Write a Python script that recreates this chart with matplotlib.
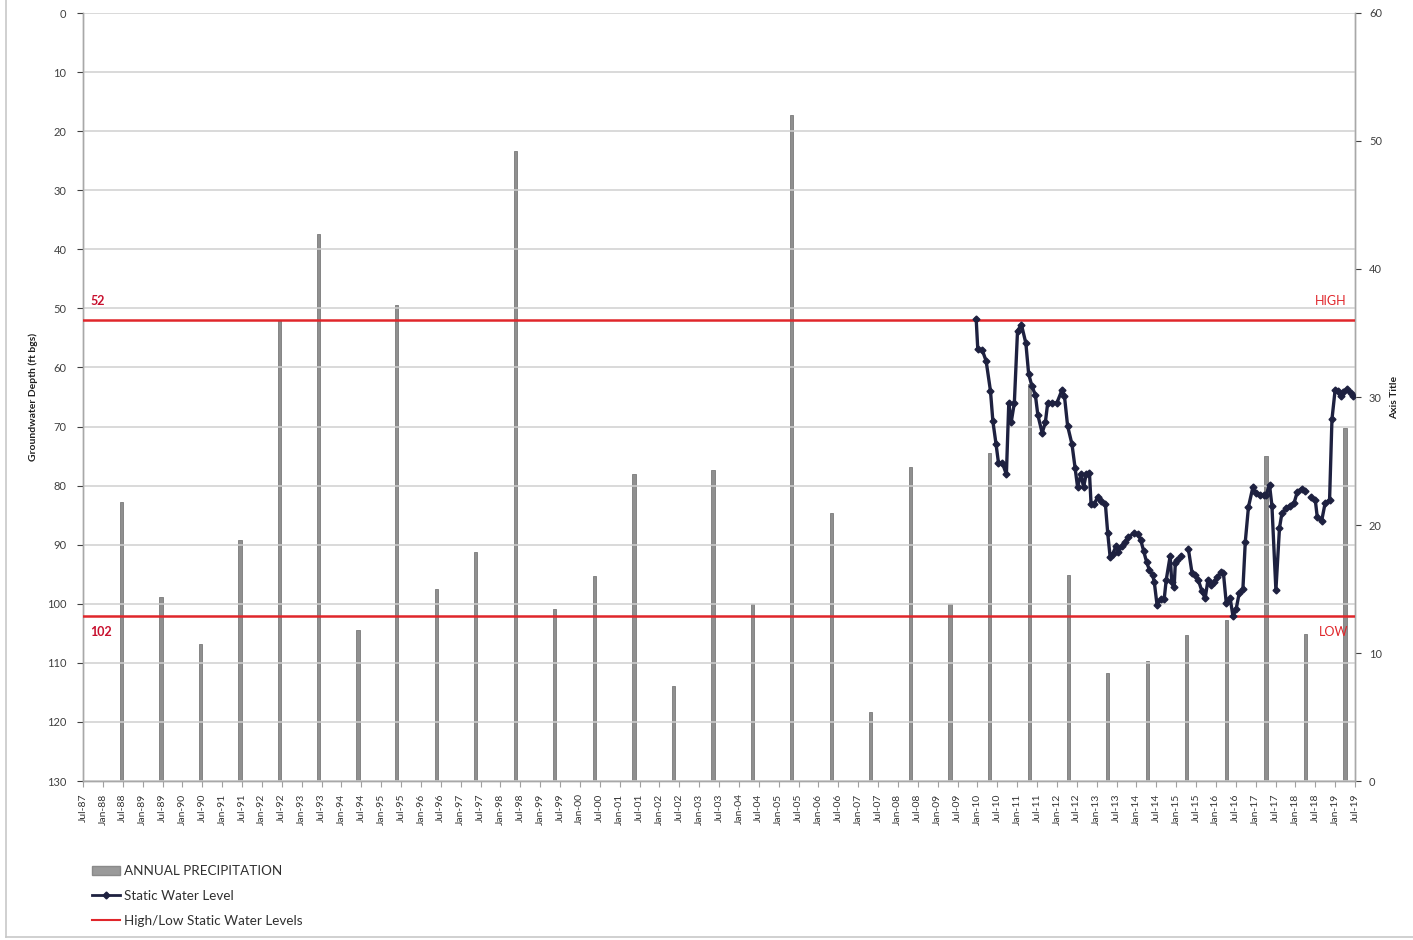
import numpy as np
import matplotlib.pyplot as plt
from matplotlib.patches import Patch
from matplotlib.lines import Line2D

plt.rcParams['font.family'] = ['Lato', 'DejaVu Sans']

# Annual precipitation (right axis), bar position in decimal years
precip_year = [1988.47, 1989.46, 1990.46, 1991.45, 1992.44, 1993.43, 1994.42, 1995.39,
               1996.39, 1997.38, 1998.38, 1999.37, 2000.37, 2001.36, 2002.35, 2003.35,
               2004.34, 2005.33, 2006.33, 2007.32, 2008.32, 2009.31, 2010.31, 2011.31,
               2012.29, 2013.28, 2014.28, 2015.27, 2016.27, 2017.26, 2018.26, 2019.25]
precip = [21.8, 14.4, 10.7, 18.8, 36.0, 42.7, 11.8, 37.2,
          15.0, 17.9, 49.2, 13.4, 16.0, 24.0, 7.4, 24.3,
          13.8, 52.0, 20.9, 5.4, 24.5, 13.8, 25.6, 31.0,
          16.1, 8.4, 9.4, 11.4, 12.6, 25.4, 11.5, 27.6]

# Static water level (ft bgs), nan = gap in record
swl_year = [2009.97, 2010.01, 2010.12, 2010.22, 2010.33, 2010.39, 2010.47, 2010.53, 2010.63, 2010.73,
            2010.79, 2010.85, 2010.93, 2011.01, 2011.11, 2011.22, 2011.29, 2011.37, 2011.46, 2011.52,
            2011.63, 2011.71, 2011.77, 2011.88, 2012.00, 2012.13, 2012.19, 2012.27, 2012.38, 2012.46,
            2012.52, 2012.61, 2012.67, 2012.74, 2012.82, 2012.86, 2012.94, 2013.03, 2013.11, 2013.22,
            2013.28, 2013.34, 2013.41, 2013.49, 2013.55, 2013.64, 2013.72, 2013.80, 2013.95, 2014.04,
            2014.11, 2014.18, 2014.26, 2014.33, 2014.41, 2014.45, 2014.52, 2014.62, 2014.70, 2014.75,
            2014.85, 2014.89, 2014.95, 2014.98, 2015.03, 2015.12, 2015.20, 2015.31, 2015.40, 2015.48,
            2015.56, 2015.65, 2015.73, 2015.80, 2015.87, 2015.96, 2016.04, 2016.13, 2016.19, 2016.26,
            2016.36, 2016.43, 2016.51, 2016.59, 2016.68, 2016.74, 2016.82, 2016.93, 2017.01, 2017.11,
            2017.20, 2017.26, 2017.35, 2017.41, 2017.51, 2017.60, 2017.66, 2017.77, 2017.87, 2017.97,
            2018.05, 2018.16, 2018.24, 2018.32, 2018.40, 2018.50, 2018.55, 2018.66, 2018.75, 2018.86,
            2018.92, 2019.00, 2019.06, 2019.14, 2019.21, 2019.29, 2019.39, 2019.46]
swl_depth = [51.8, 56.9, 57.0, 58.9, 64.0, 69.1, 73.0, 76.1, 76.2, 78.1,
             66.0, 69.3, 66.0, 53.8, 52.8, 55.9, 61.1, 63.1, 64.7, 68.0,
             71.1, 69.3, 66.0, 66.0, 66.0, 63.8, 64.8, 69.9, 73.0, 77.1,
             80.2, 78.0, 80.3, 78.0, 77.9, 83.1, 83.1, 81.9, 82.6, 83.1,
             88.1, 92.1, 91.5, 90.2, 91.2, 90.2, 89.5, 88.7, 88.0, 88.2,
             89.2, 91.0, 93.0, 94.3, 95.2, 96.3, 100.2, 99.2, 99.2, 96.0,
             91.9, 96.3, 97.2, 93.1, 92.6, 91.9, np.nan, 90.8, 94.8, 95.1,
             96.0, 97.9, 99.1, 96.0, 96.8, 96.3, 95.4, 94.7, 94.8, 99.8,
             99.1, 102.1, 100.9, 98.1, 97.5, 89.5, 83.6, 80.3, 81.3, 81.6,
             81.6, 81.6, 79.9, 83.4, 97.7, 87.2, 84.7, 83.8, 83.4, 82.9,
             81.0, 80.5, 80.9, np.nan, 82.0, 82.4, 85.3, 86.0, 82.9, 82.5,
             68.8, 63.8, 63.9, 64.9, 64.1, 63.7, 64.4, 64.8]

high_level = 52
low_level = 102

tick_pos = []
tick_labels = []
for yr in range(1987, 2020):
    if yr > 1987:
        tick_pos.append(yr + 0.0)
        tick_labels.append('Jan-%02d' % (yr % 100))
    tick_pos.append(yr + 0.5)
    tick_labels.append('Jul-%02d' % (yr % 100))

txt = '#404040'
grid = '#d0d0d0'
red = '#e0262b'
navy = '#1e2140'

fig = plt.figure(figsize=(14.13, 9.40), dpi=100)
ax = fig.add_axes([83 / 1413, 1 - 781 / 940, (1355 - 83) / 1413, (781 - 13) / 940])
ax2 = ax.twinx()

# precipitation bars on the secondary axis
ax2.bar(precip_year, precip, width=0.08, color='#8f8f8f', edgecolor='#7a7a7a', linewidth=0.6, zorder=2)
ax2.set_ylim(0, 60)
ax2.set_yticks(range(0, 61, 10))
ax2.tick_params(axis='y', labelsize=8, colors=txt, length=4, width=0.8, pad=6)
ax2.set_ylabel('Axis Title', fontsize=7.5, fontweight='bold', color='#202020', labelpad=6)

# depth axis on top of bars
ax.set_zorder(ax2.get_zorder() + 1)
ax.patch.set_visible(False)
ax.set_ylim(130, 0)
ax.set_yticks(range(0, 131, 10))
ax.set_xlim(1987.5, 2019.5)
ax.yaxis.grid(True, color=grid, linewidth=1.1)
ax.set_axisbelow(True)

ax.axhline(high_level, color=red, linewidth=1.8, zorder=3)
ax.axhline(low_level, color=red, linewidth=1.8, zorder=3)
ax.plot(swl_year, swl_depth, color=navy, linewidth=2.4, marker='D', markersize=3.5,
        markerfacecolor=navy, markeredgecolor=navy, zorder=4)

ax.text(1987.7, high_level - 2.3, str(high_level), color='#c8102e', fontsize=9, fontweight='bold', ha='left', va='bottom')
ax.text(2019.28, high_level - 2.3, 'HIGH', color=red, fontsize=9, ha='right', va='bottom')
ax.text(1987.67, low_level + 1.8, str(low_level), color='#c8102e', fontsize=9, fontweight='bold', ha='left', va='top')
ax.text(2019.33, low_level + 1.8, 'LOW', color=red, fontsize=9, ha='right', va='top')

ax.set_xticks(tick_pos)
ax.set_xticklabels(tick_labels, rotation=90, fontsize=7.5, color='#333333')
ax.tick_params(axis='x', length=4, width=0.8, color='#a0a0a0', pad=5)
ax.tick_params(axis='y', labelsize=8, colors=txt, length=4, width=0.8, pad=8)
ax.set_ylabel('Groundwater Depth (ft bgs)', fontsize=7.5, fontweight='bold', color='#202020', labelpad=6)

for a in (ax, ax2):
    for side in ('left', 'right', 'bottom'):
        a.spines[side].set_color('#a8a8a8')
        a.spines[side].set_linewidth(1.0)
    a.spines['top'].set_visible(False)

# legend at bottom left
handles = [Patch(facecolor='#9a9a9a', edgecolor='#8a8a8a'),
           Line2D([], [], color=navy, linewidth=2, marker='D', markersize=3.5),
           Line2D([], [], color=red, linewidth=1.5)]
labels = ['ANNUAL PRECIPITATION', 'Static Water Level', 'High/Low Static Water Levels']
fig.legend(handles, labels, loc='upper left', bbox_to_anchor=(80 / 1413, 1 - 853 / 940),
           frameon=False, fontsize=9.7, handlelength=2.1, handleheight=0.6,
           handletextpad=0.3, labelspacing=0.95, labelcolor='#303030')

# chart area border remnants (left and bottom edges)
fig.add_artist(Line2D([6 / 1413, 6 / 1413], [0.003, 1.0], color='#c8c8c8', linewidth=1.2))
fig.add_artist(Line2D([6 / 1413, 1.0], [0.003, 0.003], color='#c8c8c8', linewidth=1.2))

fig.savefig('out.png', dpi=100)
